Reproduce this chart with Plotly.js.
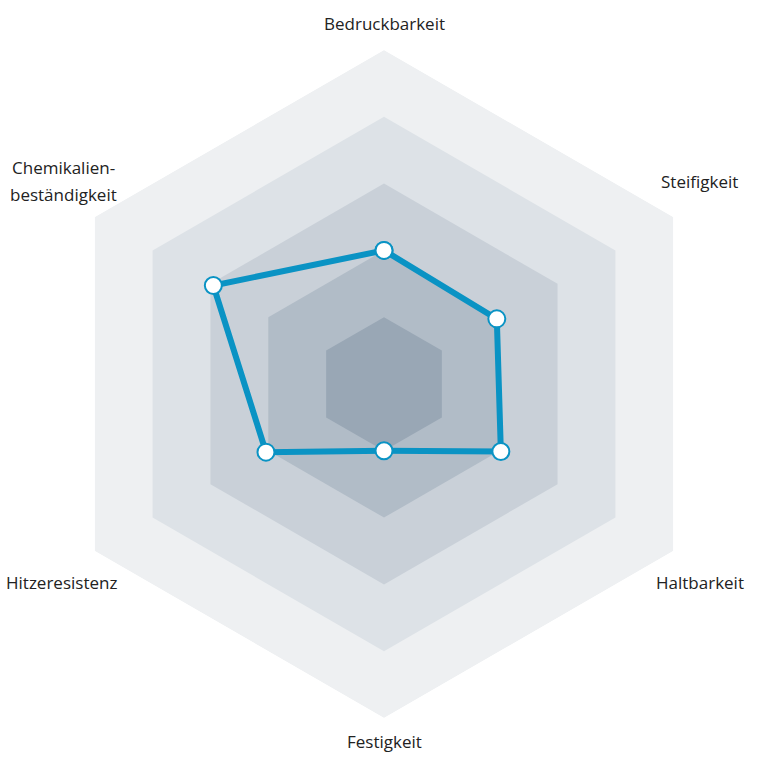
<!DOCTYPE html>
<html>
<head>
<meta charset="utf-8">
<script src="https://cdn.plot.ly/plotly-3.0.1.min.js"></script>
<style>
  html, body { margin: 0; padding: 0; background: #fff; }
  #plot { width: 768px; height: 768px; }
</style>
</head>
<body>
<div id="plot"></div>
<script>
// axes of the radar, clockwise from the top
const categories = ['Bedruckbarkeit', 'Steifigkeit', 'Haltbarkeit', 'Festigkeit', 'Hitzeresistenz', 'Chemikalienbeständigkeit'];
const labels = ['Bedruckbarkeit', 'Steifigkeit', 'Haltbarkeit', 'Festigkeit', 'Hitzeresistenz', 'Chemikalien-<br>beständigkeit'];
const values = [2, 1.95, 2.02, 1, 2.04, 2.95];
const levels = [5, 4, 3, 2, 1];

const levelColors = ['#eef0f2', '#dde2e7', '#c9d0d8', '#b1bcc7', '#99a7b5'];
const lineColor = '#0a93c4';

const closed = arr => arr.concat(arr[0]);

const data = levels.map((lv, i) => ({
  type: 'scatterpolar',
  r: closed(categories.map(() => lv)),
  theta: closed(categories),
  mode: 'lines',
  fill: 'toself',
  fillcolor: levelColors[i],
  line: { width: 0, color: levelColors[i] },
  hoverinfo: 'skip',
  showlegend: false,
}));

data.push({
  type: 'scatterpolar',
  r: closed(values),
  theta: closed(categories),
  mode: 'lines+markers',
  line: { color: lineColor, width: 6 },
  marker: { size: 17, color: '#ffffff', line: { color: lineColor, width: 2 } },
  showlegend: false,
});

// label anchors in paper coords (x, y)
const labelPos = [
  [0.5, 0.970], [0.911, 0.764], [0.911, 0.242],
  [0.5, 0.034], [0.080, 0.242], [0.083, 0.764],
];
const lineGap = 27;

// one annotation per text line so the line spacing can follow the picture
const annotations = [];
labels.forEach((t, i) => {
  const lines = t.split('<br>');
  lines.forEach((ln, j) => {
    annotations.push({
      text: ln,
      xref: 'paper', yref: 'paper',
      x: labelPos[i][0], y: labelPos[i][1],
      yshift: ((lines.length - 1) / 2 - j) * lineGap,
      xanchor: 'center', yanchor: 'middle',
      showarrow: false,
      font: { family: 'Open Sans, sans-serif', size: 17, color: '#222222' },
    });
  });
});

const pad = (384 - 334) / 768;

const layout = {
  width: 768,
  height: 768,
  margin: { l: 0, r: 0, t: 0, b: 0 },
  paper_bgcolor: '#ffffff',
  showlegend: false,
  annotations: annotations,
  polar: {
    domain: { x: [pad, 1 - pad], y: [pad, 1 - pad] },
    gridshape: 'linear',
    bgcolor: 'rgba(0,0,0,0)',
    radialaxis: { visible: false, range: [0, 5] },
    angularaxis: {
      rotation: 90,
      direction: 'clockwise',
      showgrid: false,
      showline: false,
      showticklabels: false,
      ticks: '',
    },
  },
};

Plotly.newPlot('plot', data, layout, { displayModeBar: false, staticPlot: true });
</script>
</body>
</html>
